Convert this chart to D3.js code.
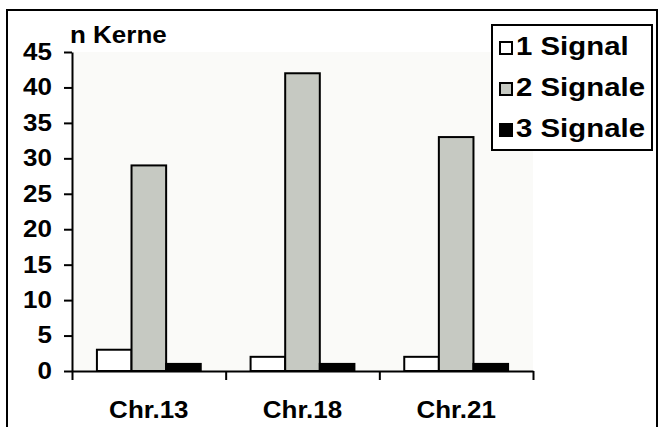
<!DOCTYPE html>
<html>
<head>
<meta charset="utf-8">
<script src="https://cdn.jsdelivr.net/npm/d3@7/dist/d3.min.js"></script>
<style>
    html, body { margin: 0; padding: 0; background: #fff; }
    svg { display: block; }
    svg text { font-family: 'Liberation Sans', Arial, sans-serif; font-weight: bold; fill: #000; }
</style>
</head>
<body>
<svg id="chart" width="659" height="427"></svg>
<script>
    'use strict';

    var categories = ['Chr.13', 'Chr.18', 'Chr.21'];
    var seriesNames = ['1 Signal', '2 Signale', '3 Signale'];
    var signal1 = [3, 2, 2];
    var signal2 = [29, 42, 33];
    var signal3 = [1, 1, 1];
    var yTicks = [0, 5, 10, 15, 20, 25, 30, 35, 40, 45];

    var seriesValues = [signal1, signal2, signal3];
    var colors = ['#ffffff', '#c6c9c2', '#000000'];
    var stretch = 1.13; // text in the picture is a bit wider than Arial

    var frame = { left: 72, right: 533, top: 52, bottom: 371 };

    var svg = d3.select('#chart');

    // outer border
    svg.append('path')
        .attr('d', 'M7,440 V10 H657 V440')
        .attr('fill', 'none')
        .attr('stroke', '#000')
        .attr('stroke-width', 2);

    var y = d3.scaleLinear()
        .domain([0, 45])
        .range([frame.bottom, frame.top]);

    var x0 = d3.scaleBand()
        .domain(categories)
        .range([frame.left, frame.right]);

    var x1 = d3.scaleBand()
        .domain(seriesNames)
        .range([0, x0.bandwidth()])
        .paddingOuter(0.72);

    var xEdges = d3.scaleLinear()
        .domain([0, categories.length])
        .range([frame.left, frame.right]);

    // plot background
    svg.append('rect')
        .attr('x', frame.left)
        .attr('y', frame.top)
        .attr('width', frame.right - frame.left)
        .attr('height', frame.bottom - frame.top)
        .attr('fill', '#fafaf8');

    // bars
    var rows = categories.map(function (c, i) {
        return seriesNames.map(function (s, j) {
            return { cat: c, name: s, value: seriesValues[j][i], color: colors[j] };
        });
    });

    svg.append('g')
        .selectAll('g')
        .data(rows)
        .join('g')
        .attr('transform', function (d, i) { return 'translate(' + x0(categories[i]) + ',0)'; })
        .selectAll('rect')
        .data(function (d) { return d; })
        .join('rect')
        .attr('x', function (d) { return x1(d.name); })
        .attr('y', function (d) { return y(d.value); })
        .attr('width', x1.bandwidth())
        .attr('height', function (d) { return y(0) - y(d.value); })
        .attr('fill', function (d) { return d.color; })
        .attr('stroke', '#000')
        .attr('stroke-width', 2);

    // y axis
    var yAxis = svg.append('g')
        .attr('transform', 'translate(' + frame.left + ',0)')
        .call(d3.axisLeft(y).tickValues(yTicks).tickSize(8).tickSizeOuter(0).tickPadding(12));

    yAxis.attr('font-family', null).attr('font-size', null);
    yAxis.select('.domain').attr('stroke-width', 2);
    yAxis.selectAll('.tick line').attr('stroke-width', 2);
    yAxis.selectAll('.tick text')
        .attr('font-size', 23)
        .attr('transform', function () {
            var t = d3.select(this);
            return 'translate(' + t.attr('x') + ',0) scale(' + stretch + ',1) translate(' + (-t.attr('x')) + ',0)';
        });

    // x axis (ticks on category edges)
    var xAxis = svg.append('g')
        .attr('transform', 'translate(0,' + frame.bottom + ')')
        .call(d3.axisBottom(xEdges).ticks(categories.length).tickSize(9).tickSizeOuter(0).tickFormat(''));

    xAxis.select('.domain').attr('stroke-width', 2);
    xAxis.selectAll('.tick line').attr('stroke-width', 2);

    svg.append('g')
        .selectAll('text')
        .data(categories)
        .join('text')
        .attr('transform', function (d) {
            return 'translate(' + (x0(d) + x0.bandwidth() / 2) + ',418) scale(' + stretch + ',1)';
        })
        .attr('text-anchor', 'middle')
        .attr('font-size', 23)
        .text(function (d) { return d; });

    // y axis title
    svg.append('text')
        .attr('transform', 'translate(70,43) scale(' + stretch + ',1)')
        .attr('font-size', 23)
        .text('n Kerne');

    // legend
    var legend = svg.append('g');

    legend.append('rect')
        .attr('x', 492)
        .attr('y', 25)
        .attr('width', 160)
        .attr('height', 125)
        .attr('fill', '#fff')
        .attr('stroke', '#000')
        .attr('stroke-width', 2);

    var items = legend.selectAll('g.item')
        .data(seriesNames)
        .join('g')
        .attr('class', 'item')
        .attr('transform', function (d, i) { return 'translate(0,' + (i * 41) + ')'; });

    items.append('rect')
        .attr('x', 500)
        .attr('y', 42)
        .attr('width', 12)
        .attr('height', 12)
        .attr('fill', function (d, i) { return colors[i]; })
        .attr('stroke', '#000')
        .attr('stroke-width', 2);

    items.append('text')
        .attr('transform', 'translate(516,55) scale(' + stretch + ',1)')
        .attr('font-size', 26)
        .text(function (d) { return d; });
</script>
</body>
</html>
